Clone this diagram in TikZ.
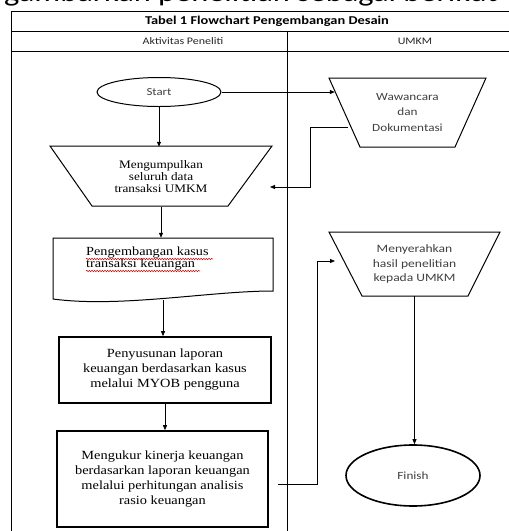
\documentclass[tikz,border=0pt]{standalone}
\usepackage{fontspec}
\setmainfont{Liberation Serif}[FakeStretch=1.15]
\newfontfamily\calibri{Carlito}[FakeStretch=1.2]
\usetikzlibrary{shapes.geometric,arrows.meta,decorations.pathmorphing}
\newcommand\ukuran[2]{\fontsize{#1}{#2}\selectfont}

\begin{document}
\begin{tikzpicture}[x=1pt,y=-1pt,
  garis/.style={line width=0.8pt},
  arr/.style={line width=0.8pt,-{Triangle[length=5pt,width=4pt]}},
  kotak/.style={draw,line width=1.6pt,align=center,inner sep=0pt},
  teks/.style={inner sep=0pt,align=center},
  sans/.style={inner sep=0pt,align=center,text=black!75},
  salah/.style={red!80!black,line width=0.5pt,decorate,
    decoration={snake,amplitude=0.7pt,segment length=2.6pt}}]
  \useasboundingbox (0,0) rectangle (509,531);

  \node [anchor=base west,inner sep=0pt,font=\calibri\ukuran{27}{27}] (lead) at (4,1.5) {gambarkan penelitian sebagai berikut};
  \fill [white] (-5,9) rectangle (515,540);

  \draw [garis] (11,531) -- (11,11) -- (509,11);
  \draw [garis] (11,31) -- (509,31);
  \draw [garis] (11,51) -- (509,51);
  \draw [garis] (287,31) -- (287,531);
  \node [teks,font=\calibri\bfseries\ukuran{12}{12}] (judul) at (267,21) {Tabel 1 Flowchart Pengembangan Desain};
  \node [sans,text=black!85,font=\calibri\ukuran{10}{12}] (peneliti) at (183,41) {Aktivitas Peneliti};
  \node [sans,text=black!85,font=\calibri\ukuran{10}{12}] (umkm) at (415,41) {UMKM};

  \node [draw,ellipse,line width=1pt,minimum width=124,minimum height=29,sans,font=\calibri\ukuran{10.7}{12}] (start) at (159,92) {Start};

  \draw [line width=1pt] (329,78) -- (486,78) -- (455,147) -- (360,147) -- cycle;
  \node [sans,minimum width=157,minimum height=69,font=\calibri\ukuran{11}{15.5}] (wawan) at (407.5,112.5) {Wawancara\\dan\\Dokumentasi};

  \draw [line width=1pt] (50,146) -- (272,146) -- (228,206) -- (92,206) -- cycle;
  \node [teks,minimum width=222,minimum height=60,font=\ukuran{11.5}{12}] (kumpul) at (161,177) {Mengumpulkan\\seluruh data\\transaksi UMKM};

  \draw [line width=1pt] (53,238) -- (273,238) -- (273,291) .. controls (210,291) and (120,308) .. (53,299) -- cycle;
  \node [minimum width=220,minimum height=62,inner sep=0pt] (kasus) at (163,269) {};
  \node [teks,align=left,anchor=north west,font=\ukuran{12.4}{11.5}] (kasusteks) at (86,247) {Pengembangan kasus\\transaksi keuangan};
  \draw [salah] (86,259) -- (213,259);
  \draw [salah] (86,271) -- (200,271);

  \node [kotak,minimum width=212,minimum height=66,font=\ukuran{12.5}{15}] (susun) at (165,370) {Penyusunan laporan\\keuangan berdasarkan kasus\\melalui MYOB pengguna};

  \node [kotak,minimum width=211,minimum height=96,font=\ukuran{12.5}{14.7}] (ukur) at (162.5,479) {Mengukur kinerja keuangan\\berdasarkan laporan keuangan\\melalui perhitungan analisis\\rasio keuangan};

  \draw [line width=1pt] (329,232) -- (500,232) -- (468,296) -- (362,296) -- cycle;
  \node [sans,minimum width=171,minimum height=64,font=\calibri\ukuran{11.3}{14.5}] (serah) at (414.5,264) {Menyerahkan\\hasil penelitian\\kepada UMKM};

  \node [draw,ellipse,line width=1.6pt,minimum width=134,minimum height=61,sans,font=\calibri\ukuran{11}{12}] (finish) at (413,475.5) {Finish};

  \coordinate (wkiri) at (348,127);
  \coordinate (wbelok) at (310,187);
  \coordinate (kmasuk) at (270,187);
  \coordinate (ukeluar) at (278,484);
  \coordinate (ubelok) at (317,261);
  \coordinate (smasuk) at (335,261);

  \draw [arr] (start.east) -- ([xshift=6pt]start.east -| wawan.west);
  \draw [arr] (wkiri) -| (wbelok) -- (kmasuk);
  \draw [arr] (start.south) -- (start.south |- kumpul.north);
  \draw [arr] (kumpul.south) -- (kumpul.south |- kasus.north);
  \draw [arr] (kasus.south) -- (kasus.south |- susun.north);
  \draw [arr] (susun.south) -- (susun.south |- ukur.north);
  \draw [arr] (ukeluar) -| (ubelok) -- (smasuk);
  \draw [arr] (serah.south) -- (serah.south |- finish.north);
\end{tikzpicture}
\end{document}
